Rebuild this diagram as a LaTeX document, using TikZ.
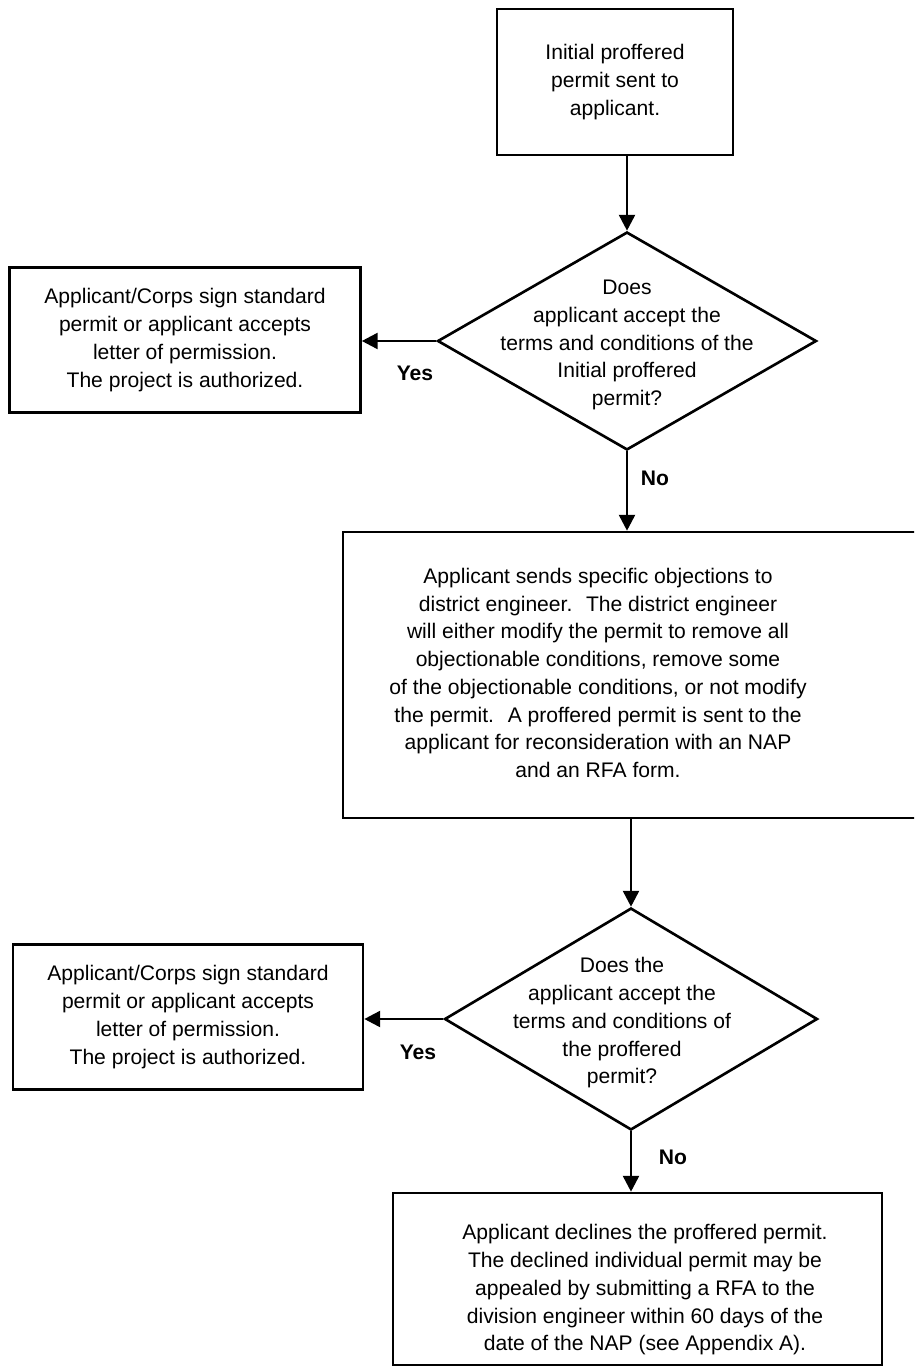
\documentclass[tikz,border=0pt]{standalone}
\usepackage{fontspec}
\setmainfont{Liberation Sans}
\usetikzlibrary{shapes.geometric,arrows.meta}

\newcommand{\bodyfont}{\fontsize{12}{15.8}\selectfont}

\tikzset{
    stepbox/.style={draw, line width=1.5pt, align=center, font=\bodyfont, inner sep=0pt},
    decision/.style={diamond, draw, line width=1.5pt, inner sep=0pt},
    boxtext/.style={align=center, font=\bodyfont, inner sep=0pt},
    branch/.style={font=\bfseries\bodyfont},
    flow/.style={line width=1.5pt, -{Triangle[length=9pt,width=9pt]}},
}

\begin{document}
\begin{tikzpicture}[x=0.02cm, y=-0.02cm]
        \useasboundingbox (0,0) rectangle (914,1368);
        \clip (0,0) rectangle (914,1368);

        % -- first proffered permit ----------------------------------------------
        \node[stepbox, minimum width=4.72cm, minimum height=2.92cm] (start) at (615,82)
            {Initial proffered\\permit sent to\\applicant.};

        % -- first decision ------------------------------------------------------
        \node[decision, minimum width=7.58cm, minimum height=4.36cm,
              label={[boxtext, yshift=-0.08cm]center:{Does\\applicant accept the\\terms and conditions of the\\Initial proffered\\permit?}}]
            (accept1) at (627,341) {};

        \node[stepbox, minimum width=7.02cm, minimum height=2.9cm] (signed1) at (185,340)
            {Applicant/Corps sign standard\\permit or applicant accepts\\letter of permission.\\The project is authorized.};

        % -- objections sent to district engineer --------------------------------
        \node[stepbox, minimum width=11.54cm, minimum height=5.72cm,
              label={[boxtext, xshift=-0.67cm, yshift=0.04cm]center:{Applicant sends specific objections to\\district engineer.~ The district engineer\\will either modify the permit to remove all\\objectionable conditions, remove some\\of the objectionable conditions, or not modify\\the permit.~ A proffered permit is sent to the\\applicant for reconsideration with an NAP\\and an RFA form.}}]
            (objections) at (631.5,675) {};

        % -- second decision -----------------------------------------------------
        \node[decision, minimum width=7.46cm, minimum height=4.44cm,
              label={[boxtext, xshift=-0.18cm, yshift=-0.08cm]center:{Does the\\applicant accept the\\terms and conditions of\\the proffered\\permit?}}]
            (accept2) at (631,1019) {};

        \node[stepbox, minimum width=7.0cm, minimum height=2.9cm] (signed2) at (188,1017)
            {Applicant/Corps sign standard\\permit or applicant accepts\\letter of permission.\\The project is authorized.};

        % -- declined permit -----------------------------------------------------
        \node[stepbox, minimum width=9.78cm, minimum height=3.44cm,
              label={[boxtext, xshift=0.15cm, yshift=-0.22cm]center:{Applicant declines the proffered permit.\\The declined individual permit may be\\appealed by submitting a RFA to the\\division engineer within 60 days of the\\date of the NAP (see Appendix A).}}]
            (declined) at (637.5,1279) {};

        % -- connectors ----------------------------------------------------------
        \draw[flow] (start.south -| accept1.north) -- (accept1.north);
        \draw[flow] (accept1.west) -- (accept1.west -| signed1.east);
        \draw[flow] (accept1.south) -- (accept1.south |- objections.north);
        \draw[flow] (objections.south -| accept2.north) -- (accept2.north);
        \draw[flow] (accept2.west) -- (accept2.west -| signed2.east);
        \draw[flow] (accept2.south) -- (accept2.south |- declined.north);

        % -- branch labels -------------------------------------------------------
        \node[branch] (yes1) at (415,373) {Yes};
        \node[branch] (no1) at (655,478) {No};
        \node[branch] (yes2) at (418,1052) {Yes};
        \node[branch] (no2) at (673,1157) {No};
    \end{tikzpicture}
\end{document}
